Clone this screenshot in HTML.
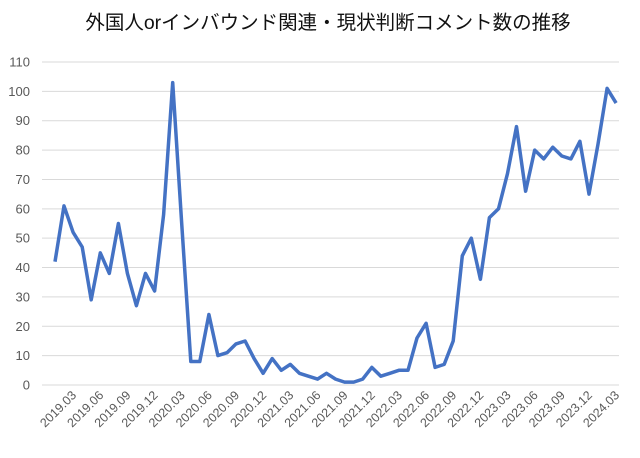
<!DOCTYPE html>
<html><head><meta charset="utf-8"><style>
body{margin:0;background:#fff}
svg text{font-family:"Liberation Sans","Noto Sans CJK JP",sans-serif}
</style></head><body>
<svg width="640" height="453" viewBox="0 0 640 453" xmlns="http://www.w3.org/2000/svg">
<rect width="640" height="453" fill="#fff"/>
<text x="328" y="29" text-anchor="middle" font-size="19.5" fill="#111">外国人orインバウンド関連・現状判断コメント数の推移</text>
<g id="grid" stroke="#d9d9d9" stroke-width="1"></g>
<g id="yl" font-size="13" fill="#595959" text-anchor="end"></g>
<g id="xl" font-size="12.5" fill="#595959"></g>
<polyline id="ln" fill="none" stroke="#4472C4" stroke-width="3.5" stroke-linejoin="round"/>
</svg>
<script>
var d=[42,61,52,47,29,45,38,55,38,27,38,32,58,103,55,8,8,24,10,11,14,15,9,4,9,5,7,4,3,2,4,2,1,1,2,6,3,4,5,5,16,21,6,7,15,44,50,36,57,60,72,88,66,80,77,81,78,77,83,65,82,101,96];
var y0=385,k=(385-62)/110,x0=55,s=9.05,ns="http://www.w3.org/2000/svg";
function el(t,a,p,txt){var e=document.createElementNS(ns,t);for(var i in a)e.setAttribute(i,a[i]);if(txt)e.textContent=txt;document.getElementById(p).appendChild(e);}
for(var v=0;v<=110;v+=10){var y=y0-v*k;el('line',{x1:42,x2:619,y1:y,y2:y},'grid');el('text',{x:30,y:y+4.5},'yl',''+v);}
document.getElementById('ln').setAttribute('points',d.map(function(v,i){return (x0+i*s).toFixed(1)+','+(y0-v*k).toFixed(1)}).join(' '));
var yr=2019,m=3;
for(var i=2;i<63;i+=3){var x=x0+i*s+4,y=396;el('text',{x:x,y:y,'text-anchor':'end',transform:'rotate(-45 '+x+' '+y+')'},'xl',yr+'.'+(m<10?'0':'')+m);m+=3;if(m>12){m-=12;yr++;}}
</script>
</body></html>
